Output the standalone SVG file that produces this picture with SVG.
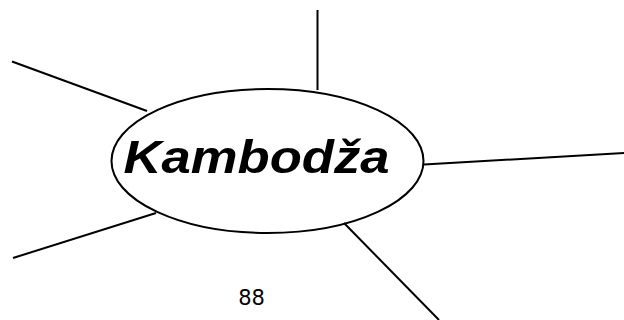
<svg xmlns="http://www.w3.org/2000/svg" width="624" height="320" viewBox="0 0 624 320">
<style>
.ln{stroke:#000;stroke-width:2;fill:none;stroke-linecap:butt}
.title{font-family:"Liberation Sans",Arial,sans-serif;font-weight:bold;font-style:italic;font-size:46px;fill:#000}
.num{font-family:"DejaVu Sans",Verdana,sans-serif;font-size:21px;fill:#000}
</style>
<rect width="624" height="320" fill="#fff"/>
<g id="connectors">
<line class="ln" x1="12" y1="61.5" x2="147" y2="111"/>
<line class="ln" x1="317.5" y1="10" x2="317.5" y2="90"/>
<line class="ln" x1="424" y1="164.5" x2="624" y2="153"/>
<line class="ln" x1="13" y1="258" x2="156" y2="213"/>
<line class="ln" x1="344" y1="223" x2="439" y2="320"/>
</g>
<g id="kambodza">
<ellipse class="ln" cx="267.5" cy="161" rx="156" ry="72" stroke-width="2.3"/>
<text class="title" x="256.5" y="173" text-anchor="middle" textLength="266" lengthAdjust="spacingAndGlyphs">Kambodža</text>
</g>
<g id="page-number">
<text class="num" x="251.5" y="305" text-anchor="middle">88</text>
</g>
</svg>
